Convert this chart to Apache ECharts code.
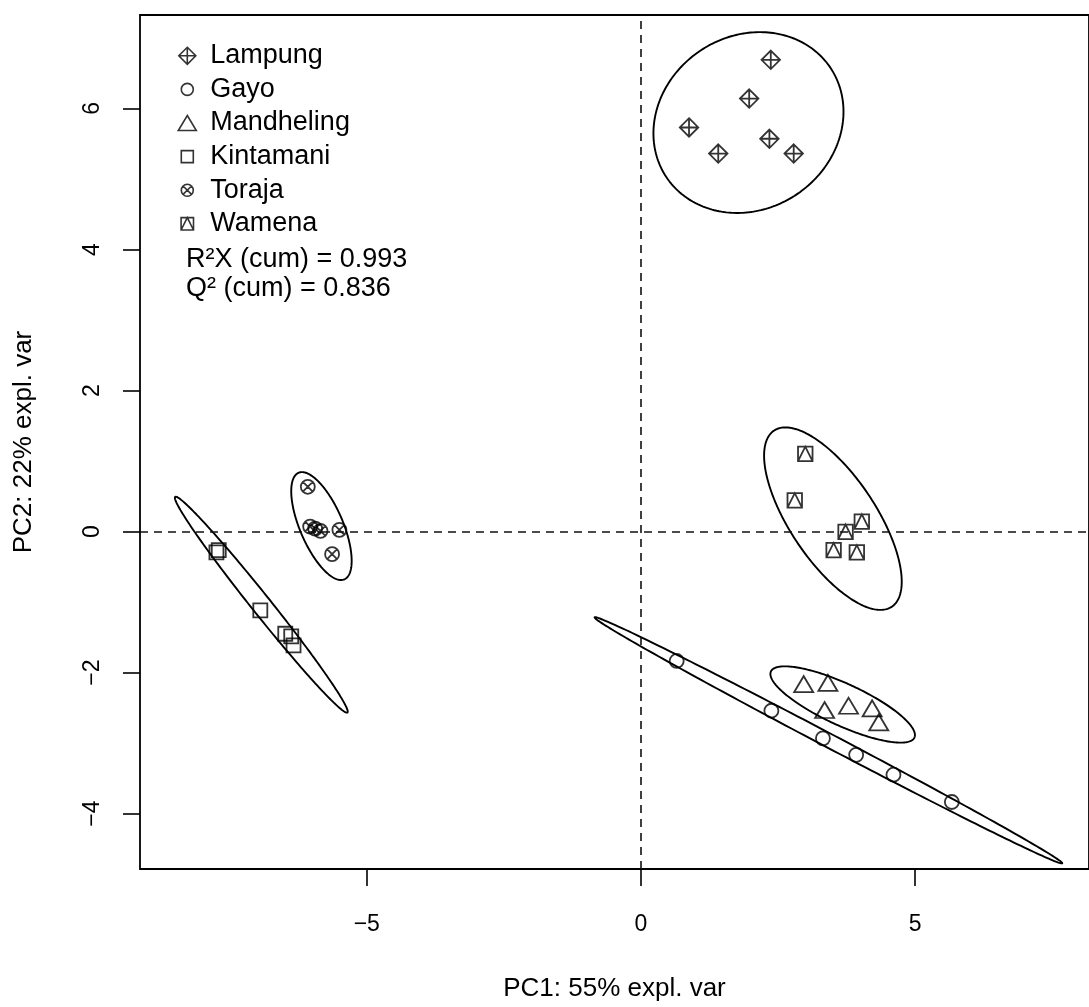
<!DOCTYPE html>
<html>
<head>
<meta charset="utf-8">
<script src="https://cdn.jsdelivr.net/npm/echarts@6/dist/echarts.min.js"></script>
<style>
html,body{margin:0;padding:0;background:#ffffff;}
#chart{width:1089px;height:1007px;}
</style>
</head>
<body>
<div id="chart"></div>
<script>
// ---------------- data ----------------
const groups = ['Lampung', 'Gayo', 'Mandheling', 'Kintamani', 'Toraja', 'Wamena'];

const lampungPC1    = [2.367, 1.973, 0.876, 1.409, 2.342, 2.785];
const lampungPC2    = [6.69, 6.14, 5.73, 5.36, 5.57, 5.36];
const gayoPC1       = [0.651, 2.378, 3.318, 3.924, 4.604, 5.669];
const gayoPC2       = [-1.835, -2.541, -2.932, -3.166, -3.448, -3.835];
const mandhelingPC1 = [2.967, 3.409, 3.349, 3.785, 4.215, 4.336];
const mandhelingPC2 = [-2.164, -2.145, -2.531, -2.470, -2.508, -2.706];
const kintamaniPC1  = [-7.742, -7.700, -6.942, -6.487, -6.378, -6.336];
const kintamaniPC2  = [-0.296, -0.264, -1.119, -1.449, -1.486, -1.613];
const torajaPC1     = [-6.076, -6.033, -5.942, -5.845, -5.500, -5.633];
const torajaPC2     = [0.635, 0.071, 0.042, 0.010, 0.024, -0.320];
const wamenaPC1     = [2.996, 2.804, 4.027, 3.731, 3.513, 3.936];
const wamenaPC2     = [1.101, 0.442, 0.141, -0.004, -0.264, -0.296];

// confidence ellipses, one per group (same order as groups)
const ellipseCenterPC1 = [1.960, 3.418, 3.678, -6.924, -5.827, 3.500];
const ellipseCenterPC2 = [5.800, -2.960, -2.452, -1.037, 0.078, 0.183];
const ellipseHalfPC1   = [1.733, 4.264, 1.318, 1.576, 0.551, 1.255];
const ellipseHalfPC2   = [1.282, 1.746, 0.541, 1.531, 0.765, 1.294];
const ellipseCorr      = [0.12, -0.998, -0.80, -0.990, -0.645, -0.69];

const xTickValues = [-5, 0, 5];
const yTickValues = [-4, -2, 0, 2, 4, 6];
const xTitle = 'PC1: 55% expl. var';
const yTitle = 'PC2: 22% expl. var';
const statLines = ['R\u00B2X (cum) = 0.993', 'Q\u00B2 (cum) = 0.836'];

// ---------------- styling ----------------
const FONT = '"Liberation Sans", Arial, Helvetica, sans-serif';
const INK = '#000000';

const pc1Lists = [lampungPC1, gayoPC1, mandhelingPC1, kintamaniPC1, torajaPC1, wamenaPC1];
const pc2Lists = [lampungPC2, gayoPC2, mandhelingPC2, kintamaniPC2, torajaPC2, wamenaPC2];

const plotSymbols = [
  'path://M0,-10 L10,0 L0,10 L-10,0 Z M0,-10 L0,10 M-10,0 L10,0',
  'path://M-10,0 A10,10 0 1,0 10,0 A10,10 0 1,0 -10,0 Z',
  'path://M0,-10 L11.5,10 L-11.5,10 Z',
  'path://M-10,-10 L10,-10 L10,10 L-10,10 Z',
  'path://M-10,0 A10,10 0 1,0 10,0 A10,10 0 1,0 -10,0 Z M-7.07,-7.07 L7.07,7.07 M-7.07,7.07 L7.07,-7.07',
  'path://M-10,-10 L10,-10 L10,10 L-10,10 Z M-10,10 L0,-10 L10,10'
];
const plotSymbolSizes = [18.5, 14, [19, 16], 14, 14, 14.5];

// legend icons drawn inside a fixed +-9.5 box so that they keep their relative sizes
const legendIcons = [
  'path://M-9.5,-9.5 M9.5,9.5 M0,-8.5 L8.5,0 L0,8.5 L-8.5,0 Z M0,-8.5 L0,8.5 M-8.5,0 L8.5,0',
  'path://M-9.5,-9.5 M9.5,9.5 M-6,0 A6,6 0 1,0 6,0 A6,6 0 1,0 -6,0 Z',
  'path://M-9.5,-9.5 M9.5,9.5 M0,-7.5 L9,7.5 L-9,7.5 Z',
  'path://M-9.5,-9.5 M9.5,9.5 M-6,-6 L6,-6 L6,6 L-6,6 Z',
  'path://M-9.5,-9.5 M9.5,9.5 M-6,0 A6,6 0 1,0 6,0 A6,6 0 1,0 -6,0 Z M-4.24,-4.24 L4.24,4.24 M-4.24,4.24 L4.24,-4.24',
  'path://M-9.5,-9.5 M9.5,9.5 M-6.2,-6.2 L6.2,-6.2 L6.2,6.2 L-6.2,6.2 Z M-6.2,6.2 L0,-6.2 L6.2,6.2'
];

function fmtTick(v) {
  return v < 0 ? '\u2212' + Math.abs(v) : String(v);
}

const markerStyle = { color: 'rgba(0,0,0,0)', borderColor: INK, borderWidth: 1.8 };

const series = [];

// dashed reference lines at 0
series.push({
  type: 'line',
  name: 'zero-lines',
  data: [],
  silent: true,
  markLine: {
    silent: true,
    symbol: ['none', 'none'],
    label: { show: false },
    lineStyle: { type: [8, 6], color: '#111111', width: 1.6 },
    emphasis: { disabled: true },
    data: [{ xAxis: 0 }, { yAxis: 0 }]
  }
});

// ellipses
series.push({
  type: 'custom',
  name: 'ellipses',
  silent: true,
  clip: true,
  data: groups.map((g, i) => [ellipseCenterPC1[i], ellipseCenterPC2[i], i]),
  encode: { x: 0, y: 1 },
  renderItem: function (params, api) {
    const i = api.value(2);
    const cx = ellipseCenterPC1[i], cy = ellipseCenterPC2[i];
    const w = ellipseHalfPC1[i], h = ellipseHalfPC2[i], r = ellipseCorr[i];
    const s = Math.sqrt(1 - r * r);
    const pts = [];
    const n = 240;
    for (let k = 0; k < n; k++) {
      const t = 2 * Math.PI * k / n;
      const x = cx + Math.cos(t) * w;
      const y = cy + Math.cos(t) * r * h + Math.sin(t) * h * s;
      pts.push(api.coord([x, y]));
    }
    return {
      type: 'polygon',
      shape: { points: pts },
      style: { fill: 'none', stroke: INK, lineWidth: 1.9 }
    };
  }
});

// scatter groups
groups.forEach((g, gi) => {
  series.push({
    type: 'scatter',
    name: g,
    symbol: plotSymbols[gi],
    symbolSize: plotSymbolSizes[gi],
    itemStyle: markerStyle,
    emphasis: { disabled: true },
    data: pc1Lists[gi].map((x, k) => [x, pc2Lists[gi][k]])
  });
});

const option = {
  animation: false,
  backgroundColor: '#ffffff',
  grid: {
    left: 140, top: 15, right: -3, bottom: 134,
    show: true, borderColor: INK, borderWidth: 1.8, backgroundColor: 'rgba(0,0,0,0)'
  },
  xAxis: {
    type: 'value',
    min: -9.136, max: 8.17,
    axisLine: { show: false, onZero: false },
    splitLine: { show: false },
    axisTick: { show: true, customValues: xTickValues, length: 17, lineStyle: { color: INK, width: 1.6 } },
    axisLabel: { customValues: xTickValues, margin: 44, fontSize: 23, color: '#000', fontFamily: FONT, formatter: fmtTick },
    name: xTitle, nameLocation: 'middle', nameGap: 107,
    nameTextStyle: { fontSize: 26, color: '#000', fontFamily: FONT }
  },
  yAxis: {
    type: 'value',
    min: -4.785, max: 7.325,
    axisLine: { show: false, onZero: false },
    splitLine: { show: false },
    axisTick: { show: true, customValues: yTickValues, length: 17, lineStyle: { color: INK, width: 1.6 } },
    axisLabel: { customValues: yTickValues, rotate: 90, margin: 36, fontSize: 23, color: '#000', fontFamily: FONT, formatter: fmtTick },
    name: yTitle, nameLocation: 'middle', nameGap: 103, nameRotate: 90,
    nameTextStyle: { fontSize: 26, color: '#000', fontFamily: FONT }
  },
  legend: {
    orient: 'vertical',
    left: 177, top: 39,
    padding: 0,
    itemGap: 0,
    itemWidth: 36, itemHeight: 19,
    selectedMode: false,
    textStyle: { fontSize: 27, color: '#000', fontFamily: FONT, lineHeight: 33.6 },
    data: groups.map((g, i) => ({
      name: g,
      icon: legendIcons[i],
      itemStyle: { color: 'rgba(0,0,0,0)', borderColor: INK, borderWidth: 1.6 }
    }))
  },
  graphic: statLines.map((t, i) => ({
    type: 'text',
    x: 186, y: 260 + i * 29,
    silent: true,
    style: { text: t, fontSize: 27, fontFamily: FONT, fill: '#000', verticalAlign: 'middle', align: 'left' }
  })),
  series: series
};

const chart = echarts.init(document.getElementById('chart'), null, { renderer: 'canvas' });
chart.setOption(option);
</script>
</body>
</html>
